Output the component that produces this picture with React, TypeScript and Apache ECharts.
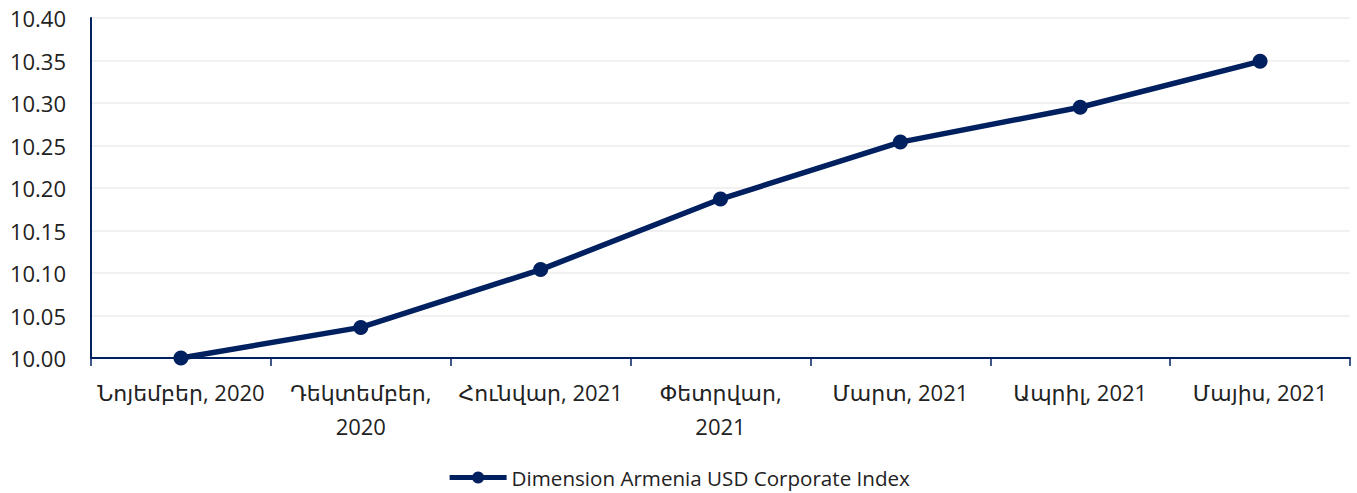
import React, { useEffect, useRef } from "react";
import * as echarts from "echarts";

const categories = [
  "Նոյեմբեր, 2020",
  "Դեկտեմբեր,\n2020",
  "Հունվար, 2021",
  "Փետրվար,\n2021",
  "Մարտ, 2021",
  "Ապրիլ, 2021",
  "Մայիս, 2021",
];
const seriesName = "Dimension Armenia USD Corporate Index";
const values = [10.0, 10.036, 10.104, 10.187, 10.254, 10.295, 10.349];

const FONT = "'Open Sans', 'Noto Sans', 'DejaVu Sans', sans-serif";
const NAVY = "#002060";

export default function App() {
  const ref = useRef<HTMLDivElement>(null);
  useEffect(() => {
    const chart = echarts.init(ref.current!, null, { renderer: "svg" });
    chart.setOption({
      animation: false,
      grid: { left: 91, right: 7, top: 18, bottom: 135 },
      legend: {
        bottom: 0,
        left: "center",
        itemWidth: 57,
        itemHeight: 15,
        itemGap: 4,
        lineStyle: { width: 5 },
        textStyle: { fontFamily: FONT, fontSize: 20.6, color: "#222" },
        data: [seriesName],
      },
      xAxis: {
        type: "category",
        data: categories,
        boundaryGap: true,
        axisLine: { lineStyle: { color: NAVY, width: 2 } },
        axisTick: { show: true, length: 8, lineStyle: { color: NAVY, width: 1.5 } },
        axisLabel: {
          fontFamily: FONT,
          fontSize: 22,
          color: "#222",
          margin: 17,
          lineHeight: 34,
          interval: 0,
        },
      },
      yAxis: {
        type: "value",
        min: 10.0,
        max: 10.4,
        interval: 0.05,
        axisLine: { show: true, lineStyle: { color: NAVY, width: 2 } },
        axisTick: { show: false },
        splitLine: { lineStyle: { color: "#ececec", width: 1.5 } },
        axisLabel: {
          fontFamily: FONT,
          fontSize: 22,
          color: "#222",
          margin: 25,
          formatter: (v: number) => v.toFixed(2),
        },
      },
      series: [
        {
          name: seriesName,
          type: "line",
          data: values,
          symbol: "circle",
          symbolSize: 15,
          lineStyle: { color: NAVY, width: 5.5 },
          itemStyle: { color: NAVY },
        },
      ],
    });
    return () => chart.dispose();
  }, []);
  return (
    <div
      ref={ref}
      style={{ position: "absolute", left: 0, top: 0, width: 1357, height: 493, background: "#fff" }}
    />
  );
}
